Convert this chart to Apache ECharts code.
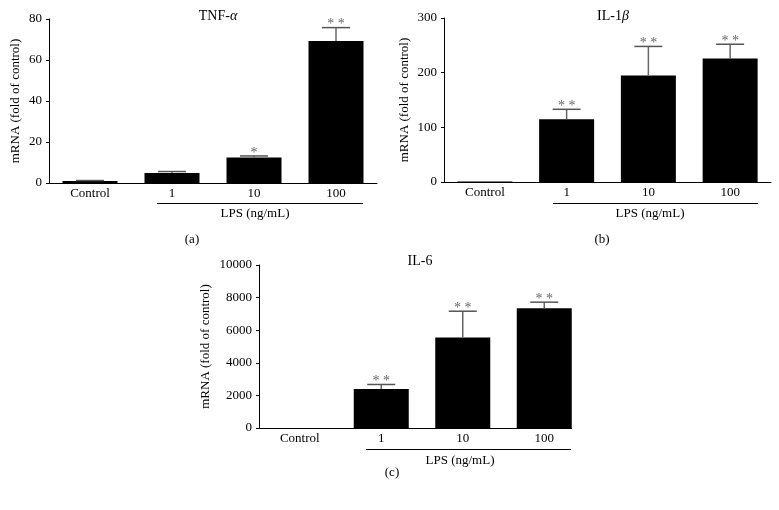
<!DOCTYPE html>
<html><head><meta charset="utf-8">
<script src="https://cdn.jsdelivr.net/npm/echarts@6/dist/echarts.min.js"></script>
<style>html,body{margin:0;padding:0;background:#fff}#c{width:779px;height:510px}</style>
</head><body><div id="c"></div>
<script>
const categories = ["Control", "1", "10", "100"];
const tnfMean = [1, 4.9, 12.5, 69.3];
const tnfErr = [0.2, 0.7, 0.7, 6.5];
const tnfStars = ["", "", "*", "* *"];
const il1Mean = [1, 115, 195, 226];
const il1Err = [0, 18, 53, 26];
const il1Stars = ["", "* *", "* *", "* *"];
const il6Mean = [1, 2390, 5550, 7350];
const il6Err = [0, 280, 1615, 370];
const il6Stars = ["", "* *", "* *", "* *"];
const yMax = [80, 300, 10000];
const yInterval = [20, 100, 2000];

const FONT = "Liberation Serif";
const chart = echarts.init(document.getElementById('c'));
const grids = [
  {left: 49, top: 19, width: 328, height: 164},
  {left: 444, top: 18, width: 327, height: 164},
  {left: 259, top: 265, width: 326, height: 163}
];
const yNameGap = [27, 33, 47];
const means = [tnfMean, il1Mean, il6Mean];
const errs = [tnfErr, il1Err, il6Err];
const stars = [tnfStars, il1Stars, il6Stars];

function errRender(params, api) {
  const x = api.value(0), v = api.value(1), e = api.value(2);
  const star = stars[params.seriesIndex / 2 | 0][params.dataIndex];
  const base = api.coord([x, v]);
  const top = api.coord([x, v + e]);
  const children = [];
  if (e > 0) {
    children.push({type: 'line', shape: {x1: base[0], y1: base[1], x2: top[0], y2: top[1]}, style: {stroke: '#666', lineWidth: 1.5}});
    children.push({type: 'line', shape: {x1: top[0] - 14, y1: top[1], x2: top[0] + 14, y2: top[1]}, style: {stroke: '#555', lineWidth: 1.5}});
  }
  if (star) {
    children.push({type: 'text', x: top[0], y: top[1] + 4, style: {text: star, fill: '#666', font: '14px "' + FONT + '"', textAlign: 'center', textVerticalAlign: 'bottom'}});
  }
  return {type: 'group', children: children};
}

const xAxis = [], yAxis = [], series = [];
for (let i = 0; i < 3; i++) {
  xAxis.push({gridIndex: i, type: 'category', data: categories,
    axisLine: {show: i < 2, lineStyle: {color: '#000', width: 1}}, axisTick: {show: false},
    axisLabel: {color: '#000', fontFamily: FONT, fontSize: 13, margin: 4}});
  yAxis.push({gridIndex: i, type: 'value', min: 0, max: yMax[i], interval: yInterval[i],
    splitLine: {show: false},
    axisLine: {show: true, lineStyle: {color: '#000', width: 1}},
    axisTick: {show: true, length: 3, lineStyle: {color: '#000'}},
    axisLabel: {color: '#000', fontFamily: FONT, fontSize: 13, margin: 7, formatter: v => String(v)},
    name: 'mRNA (fold of control)', nameLocation: 'middle', nameGap: yNameGap[i],
    nameTextStyle: {color: '#000', fontFamily: FONT, fontSize: 13}});
  series.push({type: 'bar', xAxisIndex: i, yAxisIndex: i, data: means[i], barWidth: 55,
    itemStyle: {color: '#000'}, silent: true, animation: false});
  series.push({type: 'custom', xAxisIndex: i, yAxisIndex: i, renderItem: errRender,
    data: means[i].map((m, k) => [k, m, errs[i][k]]), z: 5, animation: false, silent: true});
}

const txt = (x, y, text, extra) => Object.assign({type: 'text', x: x, y: y,
  style: {text: text, fill: '#000', font: '13px "' + FONT + '"', textAlign: 'center', textVerticalAlign: 'middle'}}, extra || {});

const titleStyle = {fontFamily: FONT, fontSize: 14, fontWeight: 'normal', color: '#000', rich: {i: {fontStyle: 'italic', fontFamily: FONT, fontSize: 14}}};
chart.setOption({
  animation: false,
  title: [
    {text: 'TNF-{i|α}', left: 213, top: 4, textAlign: 'center', textStyle: titleStyle},
    {text: 'IL-1{i|β}', left: 608, top: 4, textAlign: 'center', textStyle: titleStyle},
    {text: 'IL-6', left: 415, top: 249, textAlign: 'center', textStyle: titleStyle}
  ],
  grid: grids,
  xAxis: xAxis,
  yAxis: yAxis,
  series: series,
  graphic: [
    {type: 'line', shape: {x1: 259, y1: 428.5, x2: 572, y2: 428.5}, style: {stroke: '#000', lineWidth: 1}},
    {type: 'line', shape: {x1: 157, y1: 203.5, x2: 363, y2: 203.5}, style: {stroke: '#000', lineWidth: 1}},
    {type: 'line', shape: {x1: 553, y1: 203.5, x2: 758, y2: 203.5}, style: {stroke: '#000', lineWidth: 1}},
    {type: 'line', shape: {x1: 366, y1: 449.5, x2: 571, y2: 449.5}, style: {stroke: '#000', lineWidth: 1}},
    txt(255, 214, 'LPS (ng/mL)'),
    txt(650, 214, 'LPS (ng/mL)'),
    txt(460, 461, 'LPS (ng/mL)'),
    txt(192, 240, '(a)'),
    txt(602, 240, '(b)'),
    txt(392, 473, '(c)')
  ]
});
</script></body></html>
